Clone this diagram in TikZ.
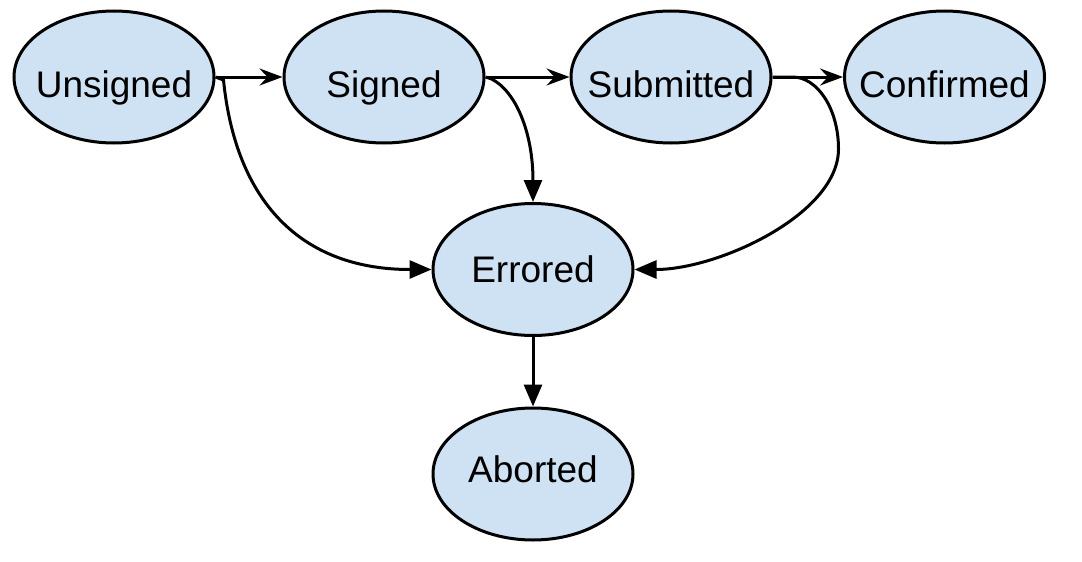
\documentclass[tikz,border=0pt]{standalone}
\usepackage{fontspec}
\setmainfont{Liberation Sans}
\usetikzlibrary{positioning,arrows.meta,shapes.geometric}
\definecolor{statefill}{RGB}{207,226,243}

\begin{document}
\begin{tikzpicture}[
    statenode/.style={ellipse, draw=black, fill=statefill, line width=1.5pt,
        minimum width=100pt, minimum height=66pt, inner xsep=-8pt, inner ysep=0pt,
        text height=17.2pt, text depth=4pt,
        font=\fontsize{18.5}{22}\selectfont},
    topnode/.style={statenode, text height=24.2pt},
    lownode/.style={statenode, text height=12.2pt},
    nextarrow/.style={-{Stealth[length=11.5pt,width=8.5pt,inset=4pt]}, line width=1.5pt},
    failarrow/.style={-{Triangle[length=11pt,width=9pt]}, line width=1.5pt},
    ]
\useasboundingbox (0,0) rectangle (541pt,-281pt);
%Nodes
\node[topnode]      (Unsigned)   at (57pt,-38.5pt)             {Unsigned};
\node[topnode]      (Signed)     [right=33.5pt of Unsigned]    {Signed};
\node[topnode]      (Submitted)  [right=42pt of Signed]        {Submitted};
\node[topnode]      (Confirmed)  [right=35.25pt of Submitted]  {Confirmed};
\node[statenode]    (Errored)    at (266.5pt,-134.75pt)        {Errored};
\node[lownode]      (Aborted)    [below=34.75pt of Errored]    {Aborted};

%Lines
\path[nextarrow]
(Unsigned) edge (Signed)
(Signed) edge (Submitted)
(Submitted) edge (Confirmed);
\path[failarrow]
(Errored) edge (Aborted);

\draw[failarrow] (Unsigned.east) -- ++(4pt,-1.5pt)
    .. controls +(6pt,-60pt) and +(-66pt,0pt) .. (Errored.west);
\draw[failarrow] (Signed.east) -- ++(3pt,-1pt)
    .. controls +(12pt,-6pt) and +(0pt,35pt) .. (Errored.north);
\draw[failarrow] (Submitted.east) -- ++(10pt,0pt)
    .. controls +(12.5pt,0pt) and +(0pt,20pt) .. ++(23pt,-36pt)
    .. controls +(0pt,-32.5pt) and +(42pt,0pt) .. (Errored.east);
\end{tikzpicture}
\end{document}
